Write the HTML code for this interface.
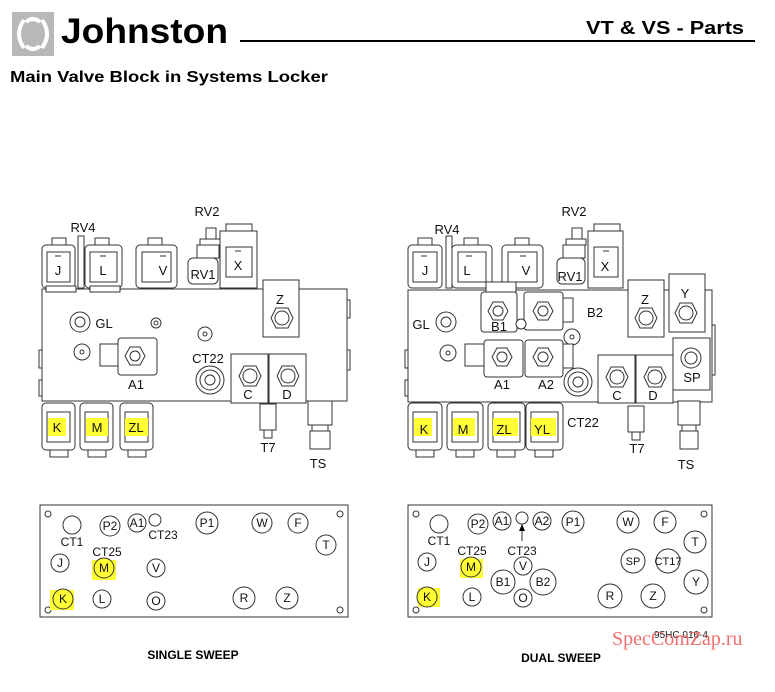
<!DOCTYPE html>
<html><head><meta charset="utf-8"><style>
html,body{margin:0;padding:0;background:#fff}
svg{display:block}
text{font-family:"Liberation Sans",Arial,sans-serif}
</style></head><body>
<svg width="775" height="692" viewBox="0 0 775 692" xmlns="http://www.w3.org/2000/svg">
<!-- header -->
<rect x="12" y="12" width="42" height="44" fill="#b8b8b8"/>
<path d="M24 20 Q14 34 24 48 M42 20 Q52 34 42 48 M26 22 Q33 16 40 22 M26 46 Q33 52 40 46" stroke="#fff" stroke-width="4" fill="none"/>
<text x="61" y="43" font-size="35" font-weight="bold" textLength="167" lengthAdjust="spacingAndGlyphs">Johnston</text>
<line x1="240" y1="41" x2="755" y2="41" stroke="#000" stroke-width="2"/>
<text x="586" y="34" font-size="18" font-weight="bold" textLength="158" lengthAdjust="spacingAndGlyphs">VT &amp; VS - Parts</text>
<text x="10" y="82" font-size="16" font-weight="bold" textLength="318" lengthAdjust="spacingAndGlyphs">Main Valve Block in Systems Locker</text>

<g fill="#fff" stroke="#333" stroke-width="1">
<!-- LEFT BLOCK -->
<rect x="42" y="289" width="305" height="112"/>
<rect x="52" y="238" width="14" height="8"/><rect x="42" y="245" width="33" height="43" rx="4"/><rect x="47" y="252" width="23" height="30"/>
<rect x="95" y="238" width="14" height="8"/><rect x="85" y="245" width="37" height="43" rx="4"/><rect x="90" y="252" width="27" height="30"/>
<rect x="148" y="238" width="14" height="8"/><rect x="136" y="245" width="41" height="43" rx="4"/><rect x="142" y="252" width="29" height="30"/>
<rect x="78" y="236" width="6" height="52"/>
<rect x="46" y="286" width="30" height="6"/><rect x="90" y="286" width="30" height="6"/>
<rect x="206" y="228" width="10" height="12"/><rect x="200" y="239" width="20" height="6"/><rect x="197" y="245" width="22" height="13"/>
<rect x="188" y="258" width="30" height="26" rx="5"/>
<rect x="226" y="224" width="26" height="8"/><rect x="220" y="231" width="37" height="57"/><rect x="226" y="247" width="26" height="30"/>
<rect x="263" y="280" width="36" height="57"/>
<polygon points="271,318 276,308 288,308 293,318 288,328 276,328"/><circle cx="282" cy="318" r="7"/>
<rect x="347" y="300" width="3" height="18"/><rect x="347" y="350" width="3" height="20"/>
<rect x="39" y="350" width="3" height="18"/><rect x="39" y="380" width="3" height="16"/>
<circle cx="80" cy="322" r="10"/><circle cx="80" cy="322" r="5"/><circle cx="156" cy="323" r="5"/><circle cx="156" cy="323" r="2"/>
<circle cx="205" cy="334" r="7"/><circle cx="205" cy="334" r="2"/>
<circle cx="82" cy="352" r="8"/><circle cx="82" cy="352" r="2"/>
<rect x="100" y="344" width="18" height="22"/><rect x="118" y="338" width="39" height="37" rx="3"/>
<polygon points="125,356 130,347 140,347 145,356 140,365 130,365"/><circle cx="135" cy="356" r="5"/>
<circle cx="210" cy="380" r="14"/><circle cx="210" cy="380" r="10"/><circle cx="210" cy="380" r="5"/>
<rect x="231" y="354" width="37" height="49"/><rect x="269" y="354" width="37" height="49"/>
<polygon points="239,376 244,366 256,366 261,376 256,386 244,386"/><circle cx="250" cy="376" r="7"/>
<polygon points="277,376 282,366 294,366 299,376 294,386 282,386"/><circle cx="288" cy="376" r="7"/>
<rect x="260" y="404" width="16" height="26"/><rect x="264" y="430" width="8" height="8"/>
<rect x="308" y="401" width="24" height="24"/><rect x="312" y="425" width="16" height="6"/><rect x="310" y="431" width="20" height="18"/>
<rect x="42" y="403" width="33" height="47" rx="4"/><rect x="47" y="412" width="23" height="30"/><rect x="50" y="450" width="18" height="7"/>
<rect x="80" y="403" width="33" height="47" rx="4"/><rect x="85" y="412" width="23" height="30"/><rect x="88" y="450" width="18" height="7"/>
<rect x="120" y="403" width="33" height="47" rx="4"/><rect x="125" y="412" width="23" height="30"/><rect x="128" y="450" width="18" height="7"/>

<!-- RIGHT BLOCK -->
<rect x="408" y="290" width="304" height="112"/>
<rect x="418" y="238" width="14" height="8"/><rect x="408" y="245" width="34" height="43" rx="4"/><rect x="413" y="252" width="24" height="30"/>
<rect x="464" y="238" width="14" height="8"/><rect x="452" y="245" width="40" height="43" rx="4"/><rect x="458" y="252" width="28" height="30"/>
<rect x="515" y="238" width="14" height="8"/><rect x="502" y="245" width="41" height="43" rx="4"/><rect x="508" y="252" width="29" height="30"/>
<rect x="446" y="236" width="6" height="52"/>
<rect x="572" y="228" width="10" height="12"/><rect x="566" y="239" width="20" height="6"/><rect x="563" y="245" width="22" height="13"/>
<rect x="557" y="258" width="28" height="26" rx="5"/>
<rect x="594" y="224" width="26" height="8"/><rect x="588" y="231" width="35" height="57"/><rect x="594" y="247" width="24" height="30"/>
<rect x="628" y="280" width="36" height="57"/><polygon points="635,318 640,308 652,308 657,318 652,328 640,328"/><circle cx="646" cy="318" r="7"/>
<rect x="669" y="274" width="36" height="58"/><polygon points="675,313 680,303 692,303 697,313 692,323 680,323"/><circle cx="686" cy="313" r="7"/>
<rect x="673" y="338" width="37" height="52"/><circle cx="691" cy="358" r="10"/><circle cx="691" cy="358" r="6"/>
<rect x="712" y="325" width="3" height="50"/><rect x="405" y="350" width="3" height="18"/><rect x="405" y="380" width="3" height="16"/>
<circle cx="446" cy="322" r="10"/><circle cx="446" cy="322" r="5"/>
<circle cx="448" cy="353" r="8"/><circle cx="448" cy="353" r="2"/>
<rect x="486" y="282" width="30" height="10"/>
<rect x="481" y="292" width="36" height="40" rx="3"/><polygon points="488,311 493,302 503,302 508,311 503,320 493,320"/><circle cx="498" cy="311" r="5"/>
<rect x="563" y="298" width="10" height="24"/>
<rect x="524" y="292" width="39" height="38" rx="3"/><polygon points="533,311 538,302 548,302 553,311 548,320 538,320"/><circle cx="543" cy="311" r="5"/>
<circle cx="521" cy="324" r="5"/><circle cx="572" cy="337" r="8"/><circle cx="572" cy="337" r="2"/>
<rect x="465" y="344" width="19" height="22"/>
<rect x="484" y="340" width="39" height="37" rx="3"/><polygon points="492,357 497,348 507,348 512,357 507,366 497,366"/><circle cx="502" cy="357" r="5"/>
<rect x="563" y="344" width="10" height="24"/>
<rect x="525" y="340" width="38" height="37" rx="3"/><polygon points="533,357 538,348 548,348 553,357 548,366 538,366"/><circle cx="543" cy="357" r="5"/>
<circle cx="578" cy="382" r="14"/><circle cx="578" cy="382" r="10"/><circle cx="578" cy="382" r="5"/>
<rect x="598" y="355" width="37" height="48"/><rect x="636" y="355" width="37" height="48"/>
<polygon points="606,377 611,367 623,367 628,377 623,387 611,387"/><circle cx="617" cy="377" r="7"/>
<polygon points="644,377 649,367 661,367 666,377 661,387 649,387"/><circle cx="655" cy="377" r="7"/>
<rect x="628" y="406" width="16" height="26"/><rect x="632" y="432" width="8" height="8"/>
<rect x="678" y="401" width="22" height="24"/><rect x="682" y="425" width="14" height="6"/><rect x="680" y="431" width="18" height="18"/>
<rect x="408" y="403" width="34" height="47" rx="4"/><rect x="413" y="412" width="24" height="30"/><rect x="416" y="450" width="18" height="7"/>
<rect x="447" y="403" width="36" height="47" rx="4"/><rect x="452" y="412" width="26" height="30"/><rect x="456" y="450" width="18" height="7"/>
<rect x="488" y="403" width="37" height="47" rx="4"/><rect x="493" y="412" width="27" height="30"/><rect x="497" y="450" width="18" height="7"/>
<rect x="526" y="403" width="37" height="47" rx="4"/><rect x="531" y="412" width="27" height="30"/><rect x="535" y="450" width="18" height="7"/>
</g>
<g stroke="#333" stroke-width="1">
<line x1="55" y1="256" x2="61" y2="256"/><line x1="100" y1="256" x2="106" y2="256"/><line x1="160" y1="256" x2="166" y2="256"/><line x1="235" y1="251" x2="241" y2="251"/>
<line x1="421" y1="256" x2="427" y2="256"/><line x1="466" y1="256" x2="472" y2="256"/><line x1="520" y1="256" x2="526" y2="256"/><line x1="603" y1="251" x2="609" y2="251"/>
</g>
<g fill="#ffff33">
<rect x="48" y="418" width="18" height="18"/><rect x="86" y="418" width="22" height="18"/><rect x="125" y="418" width="23" height="18"/>
<rect x="414" y="418" width="18" height="18"/><rect x="453" y="418" width="22" height="18"/><rect x="493" y="418" width="25" height="18"/><rect x="531" y="418" width="25" height="18"/>
</g>
<g font-size="13" text-anchor="middle" fill="#111">
<text x="83" y="232">RV4</text><text x="207" y="216">RV2</text><text x="203" y="279">RV1</text><text x="238" y="270">X</text>
<text x="58" y="275">J</text><text x="103" y="275">L</text><text x="163" y="275">V</text><text x="280" y="304">Z</text>
<text x="104" y="328">GL</text><text x="136" y="389">A1</text><text x="208" y="363">CT22</text><text x="248" y="399">C</text><text x="287" y="399">D</text>
<text x="57" y="432">K</text><text x="97" y="432">M</text><text x="136" y="432">ZL</text><text x="268" y="452">T7</text><text x="318" y="468">TS</text>
<text x="447" y="234">RV4</text><text x="574" y="216">RV2</text><text x="570" y="281">RV1</text><text x="605" y="271">X</text>
<text x="425" y="275">J</text><text x="467" y="275">L</text><text x="526" y="275">V</text><text x="645" y="304">Z</text><text x="685" y="298">Y</text>
<text x="499" y="331">B1</text><text x="595" y="317">B2</text><text x="421" y="329">GL</text>
<text x="502" y="389">A1</text><text x="546" y="389">A2</text><text x="583" y="427">CT22</text><text x="617" y="400">C</text><text x="653" y="400">D</text><text x="692" y="382">SP</text>
<text x="424" y="434">K</text><text x="463" y="434">M</text><text x="504" y="434">ZL</text><text x="542" y="434">YL</text><text x="637" y="453">T7</text><text x="686" y="469">TS</text>
</g>

<g fill="none" stroke="#333">
<rect x="40" y="505" width="308" height="112"/><rect x="408" y="505" width="304" height="112"/>
<circle cx="48" cy="514" r="3"/><circle cx="340" cy="514" r="3"/><circle cx="48" cy="610" r="3"/><circle cx="340" cy="610" r="3"/>
<circle cx="416" cy="514" r="3"/><circle cx="704" cy="514" r="3"/><circle cx="416" cy="610" r="3"/><circle cx="704" cy="610" r="3"/>
<circle cx="72" cy="525" r="9"/><circle cx="110" cy="526" r="10"/><circle cx="137" cy="523" r="9"/><circle cx="155" cy="520" r="6"/>
<circle cx="207" cy="523" r="11"/><circle cx="262" cy="523" r="10"/><circle cx="298" cy="523" r="10"/><circle cx="326" cy="545" r="10"/>
<circle cx="60" cy="563" r="9"/><circle cx="156" cy="568" r="9"/><circle cx="102" cy="599" r="9"/><circle cx="156" cy="601" r="9"/>
<circle cx="244" cy="598" r="11"/><circle cx="287" cy="598" r="11"/>
<circle cx="439" cy="524" r="9"/><circle cx="478" cy="524" r="10"/><circle cx="502" cy="521" r="9"/><circle cx="522" cy="518" r="6"/><circle cx="542" cy="521" r="9"/>
<circle cx="573" cy="522" r="11"/><circle cx="628" cy="522" r="11"/><circle cx="665" cy="522" r="11"/><circle cx="695" cy="542" r="11"/>
<circle cx="427" cy="562" r="9"/><circle cx="523" cy="566" r="9"/><circle cx="503" cy="582" r="12"/><circle cx="543" cy="582" r="13"/><circle cx="523" cy="598" r="9"/>
<circle cx="472" cy="597" r="9"/><circle cx="633" cy="561" r="12"/><circle cx="668" cy="561" r="12"/><circle cx="610" cy="596" r="12"/><circle cx="653" cy="596" r="12"/><circle cx="696" cy="582" r="12"/>
<line x1="522" y1="524" x2="522" y2="541"/>
</g>
<g fill="#ffff33" stroke="#333">
<rect x="92" y="560" width="24" height="20" stroke="none"/><circle cx="104" cy="568" r="10"/>
<rect x="50" y="590" width="24" height="20" stroke="none"/><circle cx="63" cy="599" r="10"/>
<rect x="460" y="559" width="23" height="19" stroke="none"/><circle cx="471" cy="567" r="10"/>
<rect x="418" y="588" width="22" height="19" stroke="none"/><circle cx="427" cy="597" r="10"/>
</g>
<polygon points="522,524 519,531 525,531" fill="#000"/>
<g font-size="12" text-anchor="middle" fill="#111">
<text x="72" y="546">CT1</text><text x="110" y="530">P2</text><text x="137" y="527">A1</text><text x="163" y="539">CT23</text><text x="207" y="527">P1</text>
<text x="262" y="527">W</text><text x="298" y="527">F</text><text x="326" y="549">T</text><text x="107" y="556">CT25</text>
<text x="60" y="567">J</text><text x="104" y="572">M</text><text x="156" y="572">V</text><text x="63" y="603">K</text><text x="102" y="603">L</text><text x="156" y="605">O</text>
<text x="244" y="602">R</text><text x="287" y="602">Z</text>
<text x="439" y="545">CT1</text><text x="478" y="528">P2</text><text x="502" y="525">A1</text><text x="542" y="525">A2</text><text x="573" y="526">P1</text>
<text x="628" y="526">W</text><text x="665" y="526">F</text><text x="695" y="546">T</text><text x="472" y="555">CT25</text><text x="522" y="555">CT23</text>
<text x="427" y="566">J</text><text x="471" y="571">M</text><text x="523" y="570">V</text><text x="503" y="586">B1</text><text x="543" y="586">B2</text><text x="523" y="602">O</text>
<text x="427" y="601">K</text><text x="472" y="601">L</text><text x="633" y="565" font-size="11">SP</text><text x="668" y="565" font-size="11">CT17</text>
<text x="610" y="600">R</text><text x="653" y="600">Z</text><text x="696" y="586">Y</text>
</g>
<text x="681" y="638" font-size="10" text-anchor="middle" fill="#222">95HC 016-4</text>
<text x="612" y="645" font-size="20" fill="#ee5555" opacity="0.85" style="font-family:'Liberation Serif',serif">SpecComZap.ru</text>
<text x="193" y="659" font-size="12" font-weight="bold" text-anchor="middle">SINGLE SWEEP</text>
<text x="561" y="662" font-size="12" font-weight="bold" text-anchor="middle">DUAL SWEEP</text>
</svg>
</body></html>
